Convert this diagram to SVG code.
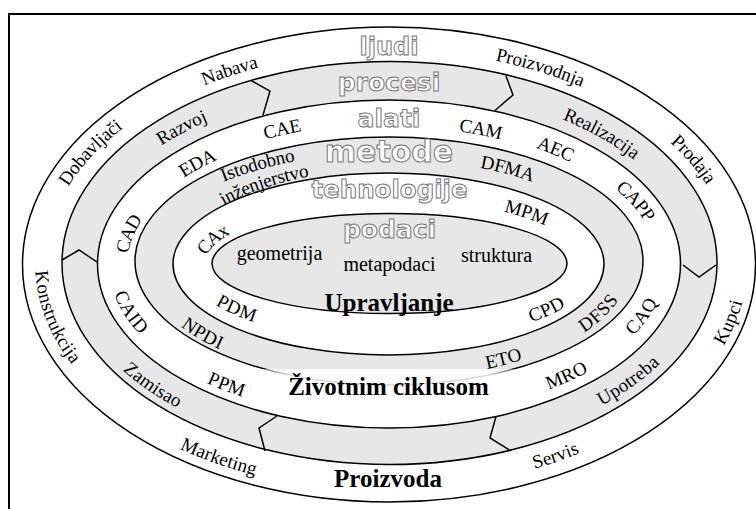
<svg xmlns="http://www.w3.org/2000/svg" width="756" height="509" viewBox="0 0 756 509">
<style>
.ring{stroke:#000;stroke-width:1.5}
.w{fill:#fff}
.g{fill:#e7e7e7}
.chev{fill:none;stroke:#000;stroke-width:1.5;stroke-linejoin:miter}
.lbl{font-family:"Liberation Serif","Times New Roman",serif;font-size:19px;fill:#000;dominant-baseline:central}
.lbl textPath{dominant-baseline:central}
.ctr{font-family:"Liberation Serif","Times New Roman",serif;font-size:20px;fill:#000;text-anchor:middle}
.big{font-family:"Liberation Serif","Times New Roman",serif;font-size:25px;font-weight:bold;fill:#000;text-anchor:middle}
.out{font-family:"DejaVu Sans","Verdana",sans-serif;font-weight:bold;fill:#fff;stroke:#777;stroke-width:1;text-anchor:middle}
</style>
<defs>
<linearGradient id="fade" gradientUnits="userSpaceOnUse" x1="238" y1="0" x2="538" y2="0">
<stop offset="0" stop-color="#fff" stop-opacity="0"/>
<stop offset="0.17" stop-color="#fff" stop-opacity="0.85"/>
<stop offset="0.83" stop-color="#fff" stop-opacity="0.85"/>
<stop offset="1" stop-color="#fff" stop-opacity="0"/>
</linearGradient>
<!-- ring A -->
<path id="pNabava" d="M549,459 A312,197 0 1 1 229,69 A312,197 0 1 1 549,459"/>
<path id="pProizvodnja" d="M237,463 A312,197 0 1 1 541,65 A312,197 0 1 1 237,463"/>
<path id="pDobavljaci" d="M690,378 A312,197 0 1 1 88,150 A312,197 0 1 1 690,378"/>
<path id="pProdaja" d="M83,370 A312,197 0 1 1 695,158 A312,197 0 1 1 83,370"/>
<path id="pKonstrukcija" d="M725,210 A312,197 0 1 0 53,318 A312,197 0 1 0 725,210"/>
<path id="pKupci" d="M50,206 A312,197 0 1 0 728,322 A312,197 0 1 0 50,206"/>
<path id="pMarketing" d="M559,71 A312,197 0 1 0 219,457 A312,197 0 1 0 559,71"/>
<path id="pServis" d="M223,73 A312,197 0 1 0 555,455 A312,197 0 1 0 223,73"/>
<!-- ring B -->
<path id="pRazvoj" d="M597,402 A278,164 0 1 1 181,126 A278,164 0 1 1 597,402"/>
<path id="pRealizacija" d="M175,397 A278,164 0 1 1 603,131 A278,164 0 1 1 175,397"/>
<path id="pZamisao" d="M625,143 A278,164 0 1 0 153,385 A278,164 0 1 0 625,143"/>
<path id="pUpotreba" d="M150,147 A278,164 0 1 0 628,381 A278,164 0 1 0 150,147"/>
<!-- ring C -->
<path id="pCAE" d="M496,400 A245,131 0 1 1 282,128 A245,131 0 1 1 496,400"/>
<path id="pCAM" d="M297,400 A245,131 0 1 1 481,128 A245,131 0 1 1 297,400"/>
<path id="pEDA" d="M581,366 A245,131 0 1 1 197,162 A245,131 0 1 1 581,366"/>
<path id="pAEC" d="M222,380 A245,131 0 1 1 556,148 A245,131 0 1 1 222,380"/>
<path id="pCAD" d="M651,295 A245,131 0 1 1 127,233 A245,131 0 1 1 651,295"/>
<path id="pCAPP" d="M141,328 A245,131 0 1 1 637,200 A245,131 0 1 1 141,328"/>
<path id="pCAID" d="M647,216 A245,131 0 1 0 131,312 A245,131 0 1 0 647,216"/>
<path id="pCAQ" d="M137,212 A245,131 0 1 0 641,316 A245,131 0 1 0 137,212"/>
<path id="pPPM" d="M551,144 A245,131 0 1 0 227,384 A245,131 0 1 0 551,144"/>
<path id="pMRO" d="M212,153 A245,131 0 1 0 566,375 A245,131 0 1 0 212,153"/>
<!-- ring D -->
<path id="pIsto1" d="M521,365 A200,93 0 1 1 257,163 A200,93 0 1 1 521,365"/>
<path id="pIsto2" d="M515,347 A200,93 0 1 1 263,181 A200,93 0 1 1 515,347"/>
<path id="pDFMA" d="M270,361 A200,93 0 1 1 508,167 A200,93 0 1 1 270,361"/>
<path id="pNPDI" d="M575,195 A200,93 0 1 0 203,333 A200,93 0 1 0 575,195"/>
<path id="pDFSS" d="M180,215 A200,93 0 1 0 598,313 A200,93 0 1 0 180,215"/>
<path id="pETO" d="M275,170 A200,93 0 1 0 503,358 A200,93 0 1 0 275,170"/>
<!-- ring E -->
<path id="pCAx" d="M566,290 A177,63 0 1 1 212,238 A177,63 0 1 1 566,290"/>
<path id="pMPM" d="M251,317 A177,63 0 1 1 527,211 A177,63 0 1 1 251,317"/>
<path id="pPDM" d="M541,220 A177,63 0 1 0 237,308 A177,63 0 1 0 541,220"/>
<path id="pCPD" d="M232,219 A177,63 0 1 0 546,309 A177,63 0 1 0 232,219"/>
</defs>

<rect width="756" height="509" fill="#fff"/>
<path d="M9,509 V14 H756" fill="none" stroke="#000" stroke-width="2"/>

<g id="ring-ljudi"><ellipse class="ring w" cx="389" cy="264.5" rx="366.5" ry="237.5"/></g>
<g id="ring-procesi"><ellipse class="ring g" cx="389.5" cy="263" rx="327.5" ry="201.5"/></g>
<g id="ring-alati"><ellipse class="ring w" cx="389" cy="264" rx="291.5" ry="164"/></g>
<g id="ring-metode"><ellipse class="ring g" cx="389" cy="261" rx="254" ry="124"/></g>
<g id="ring-tehnologije"><ellipse class="ring w" cx="388.5" cy="264" rx="215.5" ry="91"/></g>
<g id="core-podaci"><ellipse class="ring g" cx="389.5" cy="263.5" rx="177.5" ry="50"/></g>

<g id="connectors">
<polyline class="chev" points="251,80.5 270,91 263,115"/>
<polyline class="chev" points="506,76 513,95 495,110.5"/>
<polyline class="chev" points="683,265 699,277 716,265"/>
<polyline class="chev" points="62,260 79,250 97,262"/>
<polyline class="chev" points="277,416 259,428 265,451"/>
<polyline class="chev" points="496,416.5 490,438 511,451"/>
</g>

<rect x="238" y="369" width="300" height="31" fill="url(#fade)"/>

<g id="labels-outline">
<text class="out" x="389" y="54.5" font-size="24">ljudi</text>
<text class="out" x="389" y="91" font-size="25">procesi</text>
<text class="out" x="389" y="127" font-size="25">alati</text>
<text class="out" x="389" y="162" font-size="30">metode</text>
<text class="out" x="389.5" y="198" font-size="24.5">tehnologije</text>
<text class="out" x="389.5" y="237.5" font-size="25">podaci</text>
</g>

<g id="labels-ring-A">
<text class="lbl"><textPath href="#pNabava" startOffset="50%" text-anchor="middle">Nabava</textPath></text>
<text class="lbl"><textPath href="#pProizvodnja" startOffset="50%" text-anchor="middle">Proizvodnja</textPath></text>
<text class="lbl"><textPath href="#pDobavljaci" startOffset="50%" text-anchor="middle">Dobavljači</textPath></text>
<text class="lbl"><textPath href="#pProdaja" startOffset="50%" text-anchor="middle">Prodaja</textPath></text>
<text class="lbl"><textPath href="#pKonstrukcija" startOffset="50%" text-anchor="middle">Konstrukcija</textPath></text>
<text class="lbl"><textPath href="#pKupci" startOffset="50%" text-anchor="middle">Kupci</textPath></text>
<text class="lbl"><textPath href="#pMarketing" startOffset="50%" text-anchor="middle">Marketing</textPath></text>
<text class="lbl"><textPath href="#pServis" startOffset="50%" text-anchor="middle">Servis</textPath></text>
</g>
<g id="labels-ring-B">
<text class="lbl"><textPath href="#pRazvoj" startOffset="50%" text-anchor="middle">Razvoj</textPath></text>
<text class="lbl"><textPath href="#pRealizacija" startOffset="50%" text-anchor="middle">Realizacija</textPath></text>
<text class="lbl"><textPath href="#pZamisao" startOffset="50%" text-anchor="middle">Zamisao</textPath></text>
<text class="lbl"><textPath href="#pUpotreba" startOffset="50%" text-anchor="middle">Upotreba</textPath></text>
</g>
<g id="labels-ring-C">
<text class="lbl"><textPath href="#pCAE" startOffset="50%" text-anchor="middle">CAE</textPath></text>
<text class="lbl"><textPath href="#pCAM" startOffset="50%" text-anchor="middle">CAM</textPath></text>
<text class="lbl"><textPath href="#pEDA" startOffset="50%" text-anchor="middle">EDA</textPath></text>
<text class="lbl"><textPath href="#pAEC" startOffset="50%" text-anchor="middle">AEC</textPath></text>
<text class="lbl"><textPath href="#pCAD" startOffset="50%" text-anchor="middle">CAD</textPath></text>
<text class="lbl"><textPath href="#pCAPP" startOffset="50%" text-anchor="middle">CAPP</textPath></text>
<text class="lbl"><textPath href="#pCAID" startOffset="50%" text-anchor="middle">CAID</textPath></text>
<text class="lbl"><textPath href="#pCAQ" startOffset="50%" text-anchor="middle">CAQ</textPath></text>
<text class="lbl"><textPath href="#pPPM" startOffset="50%" text-anchor="middle">PPM</textPath></text>
<text class="lbl"><textPath href="#pMRO" startOffset="50%" text-anchor="middle">MRO</textPath></text>
</g>
<g id="labels-ring-D">
<text class="lbl" font-size="18.5"><textPath href="#pIsto1" startOffset="50%" text-anchor="middle">Istodobno</textPath></text>
<text class="lbl" font-size="18.5"><textPath href="#pIsto2" startOffset="50%" text-anchor="middle">inženjerstvo</textPath></text>
<text class="lbl"><textPath href="#pDFMA" startOffset="50%" text-anchor="middle">DFMA</textPath></text>
<text class="lbl"><textPath href="#pNPDI" startOffset="50%" text-anchor="middle">NPDI</textPath></text>
<text class="lbl"><textPath href="#pDFSS" startOffset="50%" text-anchor="middle">DFSS</textPath></text>
<text class="lbl"><textPath href="#pETO" startOffset="50%" text-anchor="middle">ETO</textPath></text>
</g>
<g id="labels-ring-E">
<text class="lbl"><textPath href="#pCAx" startOffset="50%" text-anchor="middle">CAx</textPath></text>
<text class="lbl"><textPath href="#pMPM" startOffset="50%" text-anchor="middle">MPM</textPath></text>
<text class="lbl"><textPath href="#pPDM" startOffset="50%" text-anchor="middle">PDM</textPath></text>
<text class="lbl"><textPath href="#pCPD" startOffset="50%" text-anchor="middle">CPD</textPath></text>
</g>
<g id="labels-core">
<text class="ctr" x="279.5" y="260">geometrija</text>
<text class="ctr" x="389.5" y="270.5">metapodaci</text>
<text class="ctr" x="496.5" y="261.5">struktura</text>
</g>
<g id="labels-bold">
<text class="big" x="389" y="311">Upravljanje</text>
<text class="big" x="388.5" y="395">Životnim ciklusom</text>
<text class="big" x="388" y="486.5">Proizvoda</text>
</g>
</svg>
